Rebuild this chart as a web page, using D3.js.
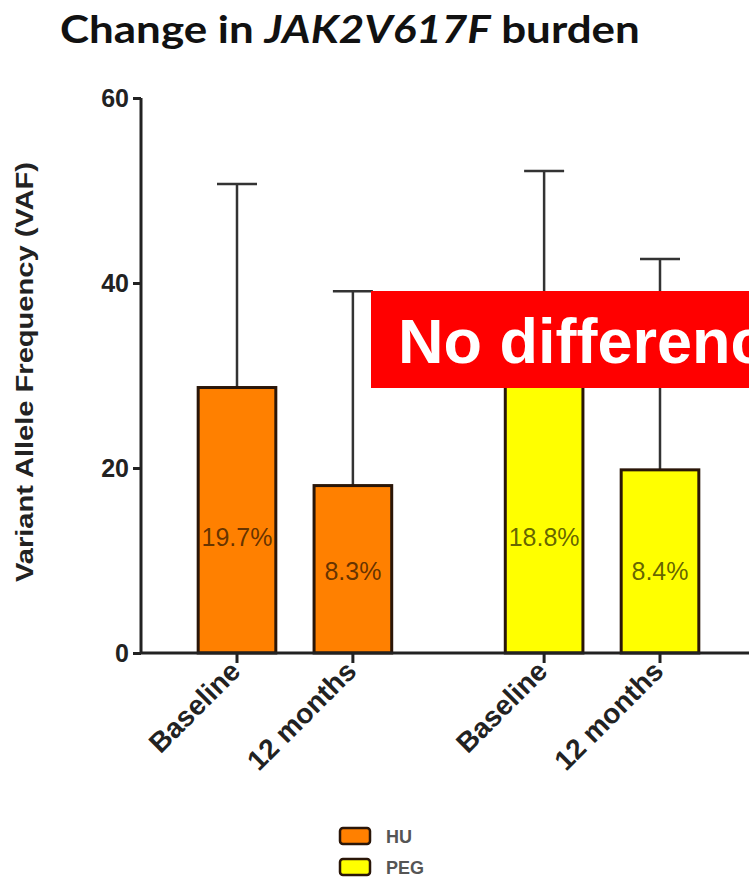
<!DOCTYPE html>
<html>
<head>
<meta charset="utf-8">
<script src="https://cdn.jsdelivr.net/npm/d3@7"></script>
<style>
  html, body { margin: 0; padding: 0; background: #fff; }
  svg { display: block; }
</style>
</head>
<body>
<svg id="chart" width="749" height="881"></svg>
<script>
// Bar categories (time points) and their treatment groups
const categories = ["Baseline", "12 months", "Baseline", "12 months"];
const groups = ["HU", "HU", "PEG", "PEG"];
// Mean VAF (bar height) and upper end of the error bar
const meanVAF = [28.7, 18.1, 29.0, 19.8];
const upperVAF = [50.7, 39.1, 52.1, 42.6];
// Median VAF printed inside each bar
const medianLabels = ["19.7%", "8.3%", "18.8%", "8.4%"];
// Y axis ticks
const yTicks = [0, 20, 40, 60];
// Legend entries
const legendGroups = ["HU", "PEG"];
const groupColors = { HU: "#ff8000", PEG: "#ffff00" };

const svg = d3.select("#chart");
const font = "'Liberation Sans', Arial, sans-serif";

const y = d3.scaleLinear().domain([0, 60]).range([653, 98]);

// slot index: bars of a group sit side by side, groups separated by a gap
const slots = categories.map((c, i) => i + (groups[i] === "PEG" ? 0.65 : 0));
const x = d3.scaleLinear().domain([0, 3.65]).range([237, 660]);
const barW = x(0.67) - x(0);

// Title
const title = svg.append("text")
  .attr("font-family", "Lato, 'Open Sans', sans-serif")
  .attr("font-weight", 700)
  .attr("font-size", 38)
  .attr("fill", "#111");
title.append("tspan").text("Change in ");
title.append("tspan").attr("font-style", "italic").text("JAK2V617F");
title.append("tspan").text(" burden");
const tw = title.node().getComputedTextLength();
title.attr("transform", `translate(60,43) scale(${580 / tw},1)`);

// Error bars (upper only)
const err = svg.append("g").attr("stroke", "#333").attr("stroke-width", 2.5);
categories.forEach((c, i) => {
  const cx = x(slots[i]);
  err.append("line").attr("x1", cx).attr("x2", cx)
    .attr("y1", y(meanVAF[i])).attr("y2", y(upperVAF[i]));
  err.append("line").attr("x1", cx - 20).attr("x2", cx + 20)
    .attr("y1", y(upperVAF[i])).attr("y2", y(upperVAF[i]));
});

// Bars
svg.append("g").selectAll("rect")
  .data(categories)
  .join("rect")
  .attr("x", (d, i) => x(slots[i]) - barW / 2)
  .attr("y", (d, i) => y(meanVAF[i]))
  .attr("width", barW)
  .attr("height", (d, i) => y(0) - y(meanVAF[i]))
  .attr("fill", (d, i) => groupColors[groups[i]])
  .attr("stroke", "#2a1608")
  .attr("stroke-width", 3);

// Median labels inside bars
svg.append("g").selectAll("text")
  .data(medianLabels)
  .join("text")
  .attr("x", (d, i) => x(slots[i]))
  .attr("y", (d, i) => y(i % 2 === 0 ? 11.6 : 7.9))
  .attr("text-anchor", "middle")
  .attr("font-family", font)
  .attr("font-size", 25)
  .attr("fill", "#000")
  .attr("fill-opacity", 0.62)
  .text(d => d);

// Y axis
const yAxis = svg.append("g")
  .attr("transform", "translate(141,0)")
  .call(d3.axisLeft(y).tickValues(yTicks).tickSize(8).tickPadding(4));
yAxis.select(".domain").attr("stroke", "#222").attr("stroke-width", 3).attr("d", `M0,${y(60)}V${y(0)}`);
yAxis.selectAll(".tick line").attr("stroke", "#222").attr("stroke-width", 3);
yAxis.selectAll(".tick text")
  .attr("font-family", font).attr("font-weight", 700).attr("font-size", 25).attr("fill", "#222");

// X axis baseline with ticks under each bar
const xAxisG = svg.append("g");
xAxisG.append("line")
  .attr("x1", 141).attr("x2", 749).attr("y1", y(0)).attr("y2", y(0))
  .attr("stroke", "#222").attr("stroke-width", 3);
categories.forEach((c, i) => {
  const cx = x(slots[i]);
  xAxisG.append("line").attr("x1", cx).attr("x2", cx)
    .attr("y1", y(0)).attr("y2", y(0) + 10)
    .attr("stroke", "#222").attr("stroke-width", 3);
  xAxisG.append("text")
    .attr("transform", `translate(${cx + 5},${y(0) + 20}) rotate(-45)`)
    .attr("text-anchor", "end")
    .attr("font-family", font).attr("font-weight", 700).attr("font-size", 28)
    .attr("fill", "#222")
    .text(c);
});

// Y axis title
svg.append("text")
  .attr("transform", "translate(33,372) rotate(-90)")
  .attr("text-anchor", "middle")
  .attr("font-family", font).attr("font-weight", 700).attr("font-size", 24)
  .attr("textLength", 420).attr("lengthAdjust", "spacingAndGlyphs")
  .attr("fill", "#222")
  .text("Variant Allele Frequency (VAF)");

// Annotation banner
svg.append("rect")
  .attr("x", 371).attr("y", 291).attr("width", 400).attr("height", 97)
  .attr("fill", "#ff0000");
svg.append("text")
  .attr("x", 398).attr("y", 363)
  .attr("font-family", font).attr("font-weight", 700).attr("font-size", 63)
  .attr("fill", "#fff")
  .text("No difference");

// Legend
const legend = svg.append("g");
legendGroups.forEach((g, i) => {
  const ly = 828 + i * 31;
  legend.append("rect")
    .attr("x", 340).attr("y", ly).attr("width", 30).attr("height", 16)
    .attr("rx", 3)
    .attr("fill", groupColors[g]).attr("stroke", "#2a1608").attr("stroke-width", 2.5);
  legend.append("text")
    .attr("x", 386).attr("y", ly + 15)
    .attr("font-family", font).attr("font-weight", 700).attr("font-size", 18)
    .attr("fill", "#555")
    .text(g);
});
</script>
</body>
</html>
